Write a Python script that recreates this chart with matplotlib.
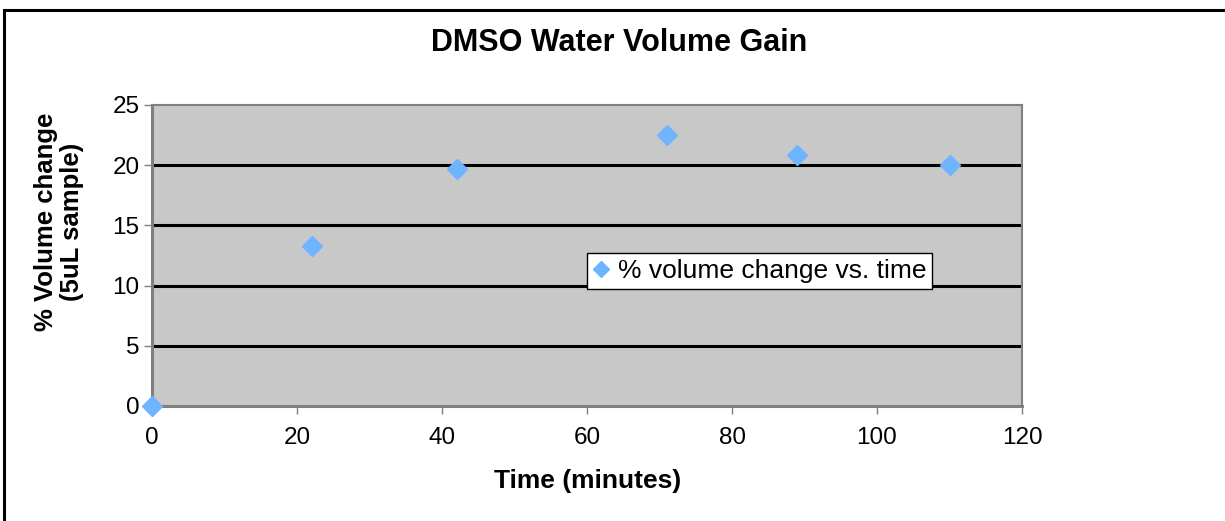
import matplotlib
matplotlib.use("Agg")
import matplotlib.pyplot as plt
from matplotlib.patches import Rectangle

plt.rcParams['font.family'] = ['Liberation Sans', 'DejaVu Sans']

time_min = [0, 22, 42, 71, 89, 110]
pct_change = [0.0, 13.25, 19.65, 22.5, 20.85, 20.05]
x_ticks = [0, 20, 40, 60, 80, 100, 120]
y_ticks = [0, 5, 10, 15, 20, 25]
series_label = "% volume change vs. time"
title = "DMSO Water Volume Gain"
xlabel = "Time (minutes)"
ylabel = "% Volume change\n(5uL sample)"

W, H = 1225, 521
fig = plt.figure(figsize=(W / 100, H / 100), dpi=100)
fig.patch.set_facecolor('white')

# outer chart border
fig.patches.append(Rectangle((4 / W, -0.05), 1.2, 1 - 10 / H + 0.05,
                             transform=fig.transFigure, fill=False,
                             edgecolor='black', linewidth=2.2, zorder=0))

ax = fig.add_axes([152 / W, 1 - 406 / H, (1022 - 152) / W, (406 - 105) / H])
ax.set_facecolor('#C8C8C8')
ax.set_xlim(0, 120)
ax.set_ylim(0, 25)
ax.set_xticks(x_ticks)
ax.set_yticks(y_ticks)
ax.tick_params(axis='both', labelsize=17.5, colors='#808080', labelcolor='black',
               length=6, width=1, direction='out', pad=9)
ax.tick_params(axis='y', pad=3)
for s in ax.spines.values():
    s.set_color('#808080')
    s.set_linewidth(1.5)
ax.spines['left'].set_linewidth(2.2)
ax.spines['bottom'].set_linewidth(2.2)

for yv in y_ticks[1:-1]:
    ax.axhline(yv, color='black', linewidth=2.2, zorder=1)

ax.plot(time_min, pct_change, linestyle='none', marker='D', markersize=10,
        color='#6EB4FF', markeredgecolor='#6EB4FF', clip_on=False, zorder=5,
        label=series_label)

leg = ax.legend(loc='lower left', bbox_to_anchor=((587 - 152) / 870, (406 - 289) / 301),
                fontsize=19, frameon=True, fancybox=False, borderpad=0.22,
                handlelength=0.6, handletextpad=0.35, borderaxespad=0,
                markerscale=0.85)
leg.get_frame().set_edgecolor('black')
leg.get_frame().set_linewidth(1)
leg.get_frame().set_facecolor('white')
leg.get_frame().set_alpha(1)

fig.text(619 / W, 1 - 43 / H, title, ha='center', va='center', fontsize=22, fontweight='bold')
fig.text(588 / W, 1 - 481 / H, xlabel, ha='center', va='center', fontsize=19, fontweight='bold')
fig.text(59 / W, 1 - 222 / H, ylabel, ha='center', va='center', fontsize=18.5,
         fontweight='bold', rotation=90, linespacing=1.15)

fig.savefig('out.png', dpi=100)
